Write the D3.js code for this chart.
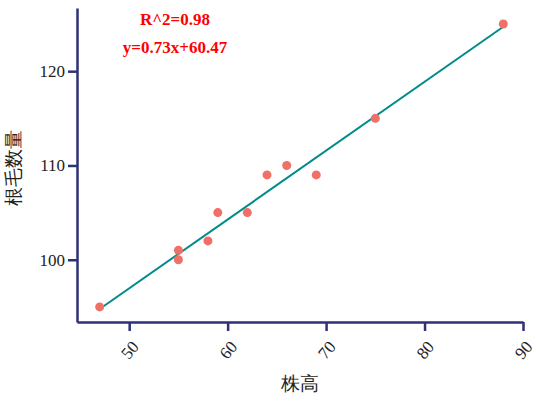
<!DOCTYPE html>
<html><head><meta charset="utf-8">
<script src="https://cdn.jsdelivr.net/npm/d3@7"></script>
<style>body{margin:0;background:#fff}</style>
</head><body><svg id="c" width="536" height="402"></svg>
<script>
const heights = [47, 55, 55, 58, 59, 62, 64, 66, 69, 75, 88];
const hairs = [95, 101, 100, 102, 105, 105, 109, 110, 109, 115, 125];
const xTicks = [50, 60, 70, 80, 90];
const yTicks = [100, 110, 120];
const slope = 0.73, intercept = 60.47;
const font = "'Liberation Serif','DejaVu Serif',serif";

const svg = d3.select("#c");
const x = d3.scaleLinear().domain([44.7, 90]).range([77, 523]);
const y = d3.scaleLinear().domain([93.4, 126.7]).range([322, 8]);
const axisColor = "#2e3175";

const line = d3.line().x(d => x(d)).y(d => y(slope * d + intercept));
svg.append("path")
    .attr("d", line([47, 88]))
    .attr("stroke", "#008b8b").attr("stroke-width", 2).attr("fill", "none");

svg.selectAll("circle.pt")
    .data(heights).enter()
    .append("circle")
    .attr("class", "pt")
    .attr("cx", d => x(d))
    .attr("cy", (d, i) => y(hairs[i]))
    .attr("r", 4.5)
    .attr("fill", "#f07068");

const gx = svg.append("g").attr("transform", "translate(0,322)")
    .call(d3.axisBottom(x).tickValues(xTicks).tickSize(9).tickSizeOuter(0));
gx.attr("font-family", font);
gx.selectAll("text")
    .attr("font-size", 17).attr("fill", "#222")
    .attr("text-anchor", "middle").attr("x", 0).attr("y", 0).attr("dy", "0.35em")
    .attr("transform", "translate(0,28) rotate(-50)");

const gy = svg.append("g").attr("transform", "translate(77,0)")
    .call(d3.axisLeft(y).tickValues(yTicks).tickSize(9).tickSizeOuter(0));
gy.attr("font-family", font);
gy.selectAll("text").attr("font-size", 17).attr("fill", "#222");

svg.selectAll(".domain, .tick line").attr("stroke", axisColor).attr("stroke-width", 2.5);

svg.append("text").attr("x", 300).attr("y", 390).attr("text-anchor", "middle")
    .attr("font-family", font).attr("font-size", 19).attr("fill", "#222").text("株高");
svg.append("text").attr("transform", "translate(20,168) rotate(-90)")
    .attr("font-family", font).attr("text-anchor", "middle").attr("font-size", 19).attr("fill", "#222").text("根毛数量");

svg.append("text").attr("x", 175).attr("y", 25).attr("text-anchor", "middle")
    .attr("font-family", font).attr("font-size", 17).attr("font-weight", "bold").attr("fill", "#f00").text("R^2=0.98");
svg.append("text").attr("x", 175).attr("y", 53).attr("text-anchor", "middle")
    .attr("font-family", font).attr("font-size", 17).attr("font-weight", "bold").attr("fill", "#f00").text("y=0.73x+60.47");
</script></body></html>
